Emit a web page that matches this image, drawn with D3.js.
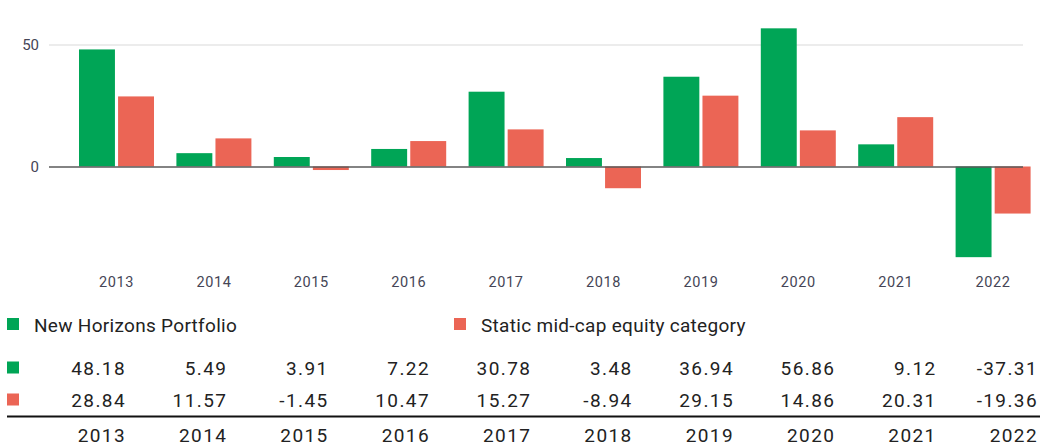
<!DOCTYPE html>
<html>
<head>
<meta charset="utf-8">
<script src="https://cdn.jsdelivr.net/npm/d3@7"></script>
<style>
  body { margin: 0; background: #fff; }
  svg { display: block; font-family: Roboto, "Liberation Sans", sans-serif; }
</style>
</head>
<body>
<div id="chart"></div>
<script>
const years = ["2013", "2014", "2015", "2016", "2017", "2018", "2019", "2020", "2021", "2022"];
const seriesNames = ["New Horizons Portfolio", "Static mid-cap equity category"];
const portfolio = [48.18, 5.49, 3.91, 7.22, 30.78, 3.48, 36.94, 56.86, 9.12, -37.31];
const category = [28.84, 11.57, -1.45, 10.47, 15.27, -8.94, 29.15, 14.86, 20.31, -19.36];
const yTicks = [0, 50];

const colors = ["#00a556", "#eb6555"];
const series = [portfolio, category];

const width = 1040;
const height = 448;

const svg = d3
    .select("#chart")
    .append("svg")
    .attr("width", width)
    .attr("height", height);

//Scales
const xScale = d3
    .scaleBand()
    .domain(years)
    .range([67.8, 1041.8])
    .paddingInner(0.23)
    .paddingOuter(0.115);
const xSub = d3
    .scaleBand()
    .domain([0, 1])
    .range([0, xScale.bandwidth()])
    .paddingInner(0.08);
const yScale = d3.scaleLinear().domain([-40, 60]).range([263.7, 20.7]);

// gridline at 50
svg.selectAll(".grid")
    .data(yTicks.filter((d) => d !== 0))
    .enter()
    .append("line")
    .attr("x1", 49)
    .attr("x2", 1023)
    .attr("y1", (d) => yScale(d))
    .attr("y2", (d) => yScale(d))
    .attr("stroke", "#ececec")
    .attr("stroke-width", 2);

// y tick labels
svg.selectAll(".ytick")
    .data(yTicks)
    .enter()
    .append("text")
    .attr("x", 39)
    .attr("y", (d) => yScale(d))
    .attr("dy", "0.35em")
    .attr("text-anchor", "end")
    .attr("font-size", "15px")
    .attr("fill", "#454556")
    .text((d) => d);

//Bars
years.forEach((year, i) => {
    series.forEach((values, s) => {
        const v = values[i];
        svg.append("rect")
            .attr("x", xScale(year) + xSub(s))
            .attr("width", xSub.bandwidth())
            .attr("y", yScale(Math.max(0, v)))
            .attr("height", Math.abs(yScale(v) - yScale(0)))
            .attr("fill", colors[s]);
    });
});

// zero line
svg.append("line")
    .attr("x1", 49)
    .attr("x2", 1023)
    .attr("y1", yScale(0) + 0.5)
    .attr("y2", yScale(0) + 0.5)
    .attr("stroke", "#5a5a5a")
    .attr("stroke-width", 1.5);

// x tick labels
svg.selectAll(".xtick")
    .data(years)
    .enter()
    .append("text")
    .attr("x", (d) => xScale(d) + xScale.bandwidth() / 2)
    .attr("y", 287)
    .attr("text-anchor", "middle")
    .attr("font-size", "14.5px")
    .attr("letter-spacing", "0.6px")
    .attr("fill", "#454556")
    .text((d) => d);

// Legend
const legendX = [7, 454];
seriesNames.forEach((name, s) => {
    svg.append("rect")
        .attr("x", legendX[s])
        .attr("y", 318)
        .attr("width", 12)
        .attr("height", 12)
        .attr("fill", colors[s]);
    svg.append("text")
        .attr("x", legendX[s] + 27)
        .attr("y", 331.5)
        .attr("font-size", "19px")
        .attr("letter-spacing", "0.3px")
        .attr("fill", "#222")
        .text(name);
});

// Data table
const colRight = d3.scalePoint().domain(years).range([126, 1038]);
const rowY = [375, 407];

series.forEach((values, s) => {
    svg.append("rect")
        .attr("x", 7)
        .attr("y", rowY[s] - 13.5)
        .attr("width", 12)
        .attr("height", 12)
        .attr("fill", colors[s]);
    svg.selectAll(".row" + s)
        .data(values)
        .enter()
        .append("text")
        .attr("x", (d, i) => colRight(years[i]))
        .attr("y", rowY[s])
        .attr("text-anchor", "end")
        .attr("font-size", "19px")
        .attr("letter-spacing", "1.4px")
        .attr("fill", "#222")
        .text((d) => d.toFixed(2));
});

svg.append("line")
    .attr("x1", 7)
    .attr("x2", 1040)
    .attr("y1", 416.5)
    .attr("y2", 416.5)
    .attr("stroke", "#111")
    .attr("stroke-width", 2);

svg.selectAll(".yearrow")
    .data(years)
    .enter()
    .append("text")
    .attr("x", (d) => colRight(d))
    .attr("y", 442)
    .attr("text-anchor", "end")
    .attr("font-size", "19px")
    .attr("letter-spacing", "1.4px")
    .attr("fill", "#222")
    .text((d) => d);
</script>
</body>
</html>
